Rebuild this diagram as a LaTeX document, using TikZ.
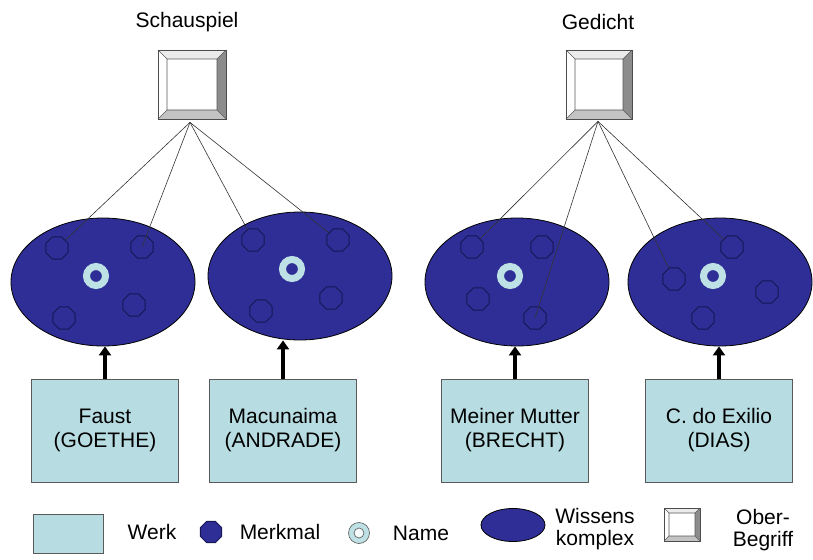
\documentclass[tikz,border=0pt]{standalone}
\usepackage{fontspec}
\setmainfont{Liberation Sans}
\usetikzlibrary{arrows.meta,calc,shapes.geometric}
\definecolor{ellblue}{RGB}{46,46,150}
\definecolor{merkline}{RGB}{22,22,85}
\definecolor{ringblue}{RGB}{190,225,230}
\definecolor{werkfill}{RGB}{183,221,227}
\definecolor{boxline}{RGB}{90,90,90}
\definecolor{bevtop}{RGB}{235,235,235}
\definecolor{bevbot}{RGB}{195,195,195}
\definecolor{bevright}{RGB}{140,140,140}
\tikzset{
    werk/.style={draw=boxline, fill=werkfill, line width=0.8pt,
                 minimum width=147pt, minimum height=103pt, align=center,
                 font=\fontsize{21}{24}\selectfont},
    wissen/.style={ellipse, draw=black, line width=0.8pt, fill=ellblue,
                   minimum width=184pt, minimum height=128pt, inner sep=0pt},
    merkmal/.style={regular polygon, regular polygon sides=8, draw=merkline,
                    line width=0.9pt, minimum size=24pt, inner sep=0pt},
    namering/.style={circle, draw=ringblue, line width=7pt, fill=ellblue,
                     minimum size=19pt, inner sep=0pt},
    link/.style={line width=0.6pt, draw=black!80},
    flow/.style={-{Triangle[length=9pt,width=12pt]}, line width=4pt},
    title/.style={font=\fontsize{21}{24}\selectfont},
    legend/.style={font=\fontsize{21}{22}\selectfont, align=center},
    bevelsq/.style={draw=black!70, line width=0.8pt, fill=white, inner sep=0pt,
        path picture={
            \path (path picture bounding box.north east) coordinate (bNE)
                  (path picture bounding box.south east) coordinate (bSE)
                  (path picture bounding box.south west) coordinate (bSW)
                  (path picture bounding box.north west) coordinate (bNW);
            \fill[bevtop] (bNW) -- (bNE) -- ([shift={(-#1,-#1)}]bNE)
                -- ([shift={(#1,-#1)}]bNW) -- cycle;
            \fill[bevright] (bNE) -- (bSE) -- ([shift={(-#1,#1)}]bSE)
                -- ([shift={(-#1,-#1)}]bNE) -- cycle;
            \fill[bevbot] (bSW) -- (bSE) -- ([shift={(-#1,#1)}]bSE)
                -- ([shift={(#1,#1)}]bSW) -- cycle;
            \draw[black!65, line width=0.6pt]
                ([shift={(#1,-#1)}]bNW) rectangle ([shift={(-#1,#1)}]bSE)
                (bNW) -- ([shift={(#1,-#1)}]bNW)
                (bNE) -- ([shift={(-#1,-#1)}]bNE)
                (bSE) -- ([shift={(-#1,#1)}]bSE)
                (bSW) -- ([shift={(#1,#1)}]bSW);
        }},
}
\begin{document}
\begin{tikzpicture}[x=1pt, y=-1pt]

    \useasboundingbox (0,0) rectangle (813,559);

    % Oberbegriffe
    \node[title] (tSchau) at (187,22) {Schauspiel};
    \node[bevelsq=9pt, minimum width=68pt, minimum height=69pt] (sqSchau) at (192,84.5) {};
    \node[title] (tGed) at (598,22) {Gedicht};
    \node[bevelsq=9pt, minimum width=66pt, minimum height=69pt] (sqGed) at (599,84.5) {};
    \coordinate (apexSchau) at ([xshift=-2pt,yshift=-3pt]sqSchau.south);
    \coordinate (apexGed) at ([xshift=-1pt,yshift=-2pt]sqGed.south);

    % Wissenskomplexe
    \node[wissen] (wFaust) at (103,282) {};
    \node[wissen] (wMacu) at (300,276) {};
    \node[wissen] (wMutter) at (517,282) {};
    \node[wissen] (wExil) at (720,282) {};

    \node[merkmal] (mFaust1) at (57,248) {};
    \node[merkmal] (mFaust2) at (142,247) {};
    \node[merkmal] (mFaust3) at (134,305) {};
    \node[merkmal] (mFaust4) at (64,318) {};
    \node[namering] (nFaust) at (96,276) {};

    \node[merkmal] (mMacu1) at (253,240) {};
    \node[merkmal] (mMacu2) at (338,240) {};
    \node[merkmal] (mMacu3) at (331,298) {};
    \node[merkmal] (mMacu4) at (261,311) {};
    \node[namering] (nMacu) at (292,269) {};

    \node[merkmal] (mMutter1) at (472,247) {};
    \node[merkmal] (mMutter2) at (542,247) {};
    \node[merkmal] (mMutter3) at (478,299) {};
    \node[merkmal] (mMutter4) at (535,318) {};
    \node[namering] (nMutter) at (510,276) {};

    \node[merkmal] (mExil1) at (674,279) {};
    \node[merkmal] (mExil2) at (732,247) {};
    \node[merkmal] (mExil3) at (767,292) {};
    \node[merkmal] (mExil4) at (703,318) {};
    \node[namering] (nExil) at (713,276) {};

    % Verbindungen zum Oberbegriff
    \draw[link] (apexSchau) -- (mFaust1);
    \draw[link] (apexSchau) -- (mFaust2.center);
    \draw[link] (apexSchau) -- (mMacu1);
    \draw[link] (apexSchau) -- (mMacu2);
    \draw[link] (apexGed) -- (mMutter1);
    \draw[link] (apexGed) -- (mMutter4.center);
    \draw[link] (apexGed) -- (mExil1);
    \draw[link] (apexGed) -- (mExil2);

    % Werke
    \node[werk] (bFaust) at (105,430.5) {Faust\\(GOETHE)};
    \node[werk] (bMacu) at (283,430.5) {Macunaima\\(ANDRADE)};
    \node[werk] (bMutter) at (515,430.5) {Meiner Mutter\\(BRECHT)};
    \node[werk] (bExil) at (719,430.5) {C. do Exilio\\(DIAS)};
    \draw[flow] (bFaust.north) -- (bFaust.north |- wFaust.south);
    \draw[flow] (bMacu.north) -- (bMacu.north |- wMacu.south);
    \draw[flow] (bMutter.north) -- (bMutter.north |- wMutter.south);
    \draw[flow] (bExil.north) -- (bExil.north |- wExil.south);

    % Legende
    \node[werk, minimum width=70pt, minimum height=39pt] (lgWerk) at (68,533.5) {};
    \node[legend] (lgWerkT) at (152,532) {Werk};
    \node[merkmal, fill=ellblue, minimum size=23pt] (lgMerk) at (211,532) {};
    \node[legend] (lgMerkT) at (280,532) {Merkmal};
    \node[circle, draw=black!60, line width=0.7pt, fill=ringblue,
          minimum size=21pt, inner sep=0pt] (lgName) at (359,533) {};
    \node[circle, draw=black!60, line width=0.7pt, fill=white!85!ringblue,
          minimum size=10pt, inner sep=0pt] (lgNameIn) at (lgName) {};
    \node[legend] (lgNameT) at (421,533) {Name};
    \node[wissen, minimum width=64pt, minimum height=33pt] (lgWissen) at (513,525) {};
    \node[legend] (lgWissenT) at (595,529) {Wissens\\komplex};
    \node[bevelsq=5pt, minimum width=36pt, minimum height=33pt] (lgOber) at (682,524.5) {};
    \node[legend] (lgOberT) at (763,530) {Ober-\\Begriff};

\end{tikzpicture}
\end{document}
